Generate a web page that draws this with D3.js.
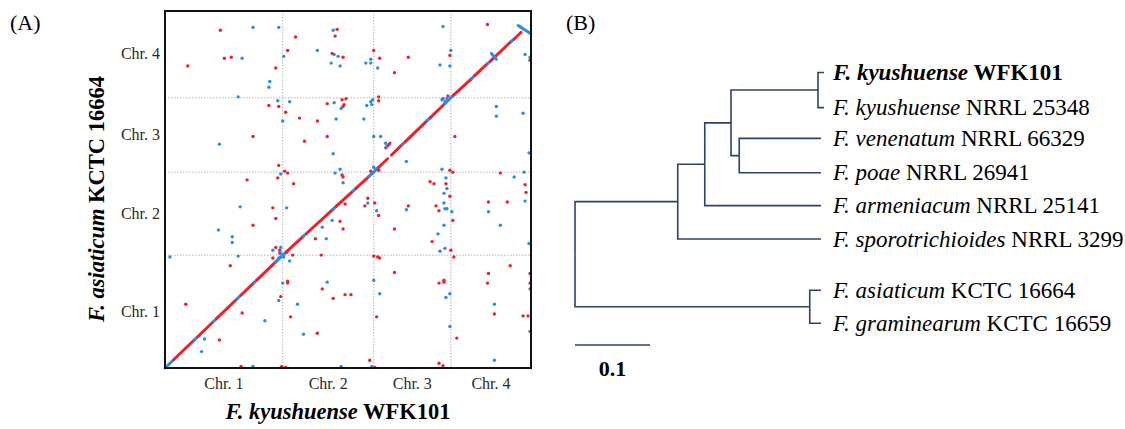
<!DOCTYPE html>
<html>
<head>
<meta charset="utf-8">
<script src="https://cdn.jsdelivr.net/npm/d3@7"></script>
<style>
  body { margin: 0; background: #fff; }
  svg { display: block; }
  text { font-family: "Liberation Serif", "Times New Roman", "DejaVu Serif", serif; }
</style>
</head>
<body>
<div id="fig"></div>
<script>
// ------------------------------------------------------------------------ //
// DATA
// ------------------------------------------------------------------------ //

// chromosome names and lengths (Mb)
const chrNames = ["Chr. 1", "Chr. 2", "Chr. 3", "Chr. 4"];
const chrLenX = [11.9, 9.2, 7.8, 8.1];   // F. kyushuense WFK101
const chrLenY = [11.7, 8.6, 7.7, 9.0];   // F. asiaticum KCTC 16664

// alignment blocks along the diagonal: x1, y1, x2, y2 (global Mb), colour
const diagBlocks = [
  [0.0, 0.0, 0.9, 0.88, "b"], [0.9, 0.88, 3.0, 2.95, "r"], [3.0, 2.95, 3.3, 3.24, "b"],
  [3.3, 3.24, 4.9, 4.82, "r"], [4.9, 4.82, 5.2, 5.11, "b"], [5.2, 5.11, 7.3, 7.18, "r"],
  [7.3, 7.18, 7.7, 7.57, "b"], [7.7, 7.57, 9.0, 8.85, "r"], [9.0, 8.85, 9.3, 9.14, "b"],
  [9.3, 9.14, 11.2, 11.0, "r"], [11.2, 11.0, 12.3, 12.07, "b"],
  [12.3, 12.07, 14.0, 13.66, "r"], [14.0, 13.66, 14.3, 13.94, "b"], [14.3, 13.94, 17.0, 16.47, "r"],
  [17.0, 16.47, 17.3, 16.75, "b"], [17.3, 16.75, 19.0, 18.34, "r"], [19.0, 18.34, 19.3, 18.62, "b"],
  [19.3, 18.62, 20.6, 19.83, "r"], [20.6, 19.83, 21.5, 20.7, "b"],
  [21.5, 20.7, 22.5, 21.69, "r"], [22.9, 22.08, 24.0, 23.17, "r"], [24.0, 23.17, 24.3, 23.46, "b"],
  [24.3, 23.46, 26.5, 25.64, "r"], [26.5, 25.64, 26.8, 25.93, "b"], [26.8, 25.93, 28.3, 27.41, "r"],
  [28.3, 27.41, 29.2, 28.3, "b"],
  [29.2, 28.3, 31.0, 30.0, "r"], [31.0, 30.0, 31.3, 30.3, "b"], [31.3, 30.3, 32.6, 31.55, "r"],
  [32.6, 31.55, 32.9, 31.8, "b"], [32.9, 31.8, 35.0, 33.85, "r"], [35.0, 33.85, 35.3, 34.1, "b"],
  [35.3, 34.1, 36.0, 34.8, "r"],
  [22.3, 22.8, 22.75, 23.3, "r"],
  [33.0, 32.6, 33.5, 32.0, "b"], [35.7, 35.5, 36.9, 34.7, "b"]
];

// scattered forward hits (x, y in global Mb)
const redDots = [
  [5.6,35.0],[13.2,34.3],[17.4,35.1],[17.2,34.4],[12.4,32.9],[6.0,32.1],[6.7,32.2],[2.3,31.3],
  [16.9,32.6],[18.0,32.2],[11.2,31.1],[17.9,27.8],[18.3,27.9],[16.4,27.4],[18.1,27.3],[18.0,27.1],
  [10.5,27.2],[11.5,27.1],[12.2,26.5],[13.6,25.9],[15.4,25.6],[8.9,24.0],[14.1,23.5],[16.4,24.0],
  [11.5,21.0],[12.1,20.4],[12.4,20.2],[11.4,19.7],[8.3,19.5],[13.0,19.1],[17.9,20.0],[18.0,19.8],
  [5.5,2.9],[8.9,14.8],[6.6,10.6],[7.8,5.7],[7.7,0.15],[10.9,16.6],[11.2,15.5],[11.2,12.5],
  [11.6,12.2],[15.8,11.7],[12.9,11.7],[10.9,11.4],[12.4,9.0],[12.4,8.8],[15.9,8.2],[18.2,7.6],
  [18.8,7.6],[11.7,7.4],[17.0,7.2],[2.1,6.6],[12.7,5.3],[15.4,3.6],[11.8,0.15],[12.2,0.05],
  [17.7,15.2],[18.0,14.4],[15.2,13.4],[18.2,17.0],[32.6,35.6],[36.9,31.9],[21.1,32.9],[21.7,32.1],
  [24.6,32.2],[23.2,30.6],[28.8,32.4],[21.6,28.1],[21.6,27.7],[29.3,24.0],[28.8,20.5],[29.1,20.3],
  [21.6,20.5],[33.9,20.2],[36.4,19.0],[36.5,18.2],[26.8,19.3],[27.2,19.1],[28.4,19.1],[28.8,17.8],
  [20.5,17.6],[20.2,16.8],[21.2,17.1],[21.6,15.8],[23.2,14.4],[24.6,16.8],[27.4,16.8],[27.7,16.3],
  [29.1,15.3],[27.0,13.1],[28.9,12.2],[29.2,11.5],[21.1,11.6],[21.5,11.5],[21.7,11.4],[23.2,9.9],
  [27.7,8.8],[28.2,9.1],[28.2,8.9],[21.4,5.3],[29.5,3.1],[32.7,17.2],[34.6,17.2],[34.9,10.6],
  [32.7,9.8],[32.6,8.8],[36.9,9.8],[36.9,8.8],[33.3,5.6],[36.2,5.4],[36.7,5.4],[20.7,0.8],
  [21.2,0.05],[27.7,0.5],[28.1,0.25],[11.6,11.9],[12.3,12.0],[20.8,20.4],[28.1,27.9],[28.6,28.2]
];

// scattered reverse hits (x, y in global Mb)
const blueDots = [
  [8.9,35.3],[11.5,35.3],[17.0,35.0],[15.4,32.9],[7.8,32.1],[12.0,32.3],[17.1,32.5],[17.5,32.3],
  [16.8,31.6],[17.7,31.3],[10.6,29.7],[10.5,29.1],[7.4,28.1],[11.4,27.7],[12.6,27.6],[17.1,27.5],
  [17.8,26.9],[17.3,25.8],[11.9,25.6],[5.5,23.2],[17.0,22.2],[17.7,20.6],[17.2,20.2],[18.0,19.2],
  [11.7,20.1],[0.5,11.5],[3.7,1.7],[4.0,3.0],[7.6,16.7],[5.4,14.3],[6.8,13.6],[6.8,13.0],
  [7.4,11.6],[10.1,4.9],[8.9,0.15],[12.3,16.6],[10.9,12.2],[11.7,12.5],[12.6,11.1],[11.9,8.8],
  [16.4,8.9],[11.5,7.0],[13.4,6.6],[14.0,3.5],[17.8,0.15],[16.9,15.3],[15.9,14.6],[16.3,13.4],
  [28.1,35.4],[36.4,32.5],[36.9,32.2],[20.3,31.6],[20.8,32.0],[20.8,31.6],[21.5,31.1],[27.8,31.4],
  [28.9,32.9],[28.8,31.3],[21.0,27.8],[20.8,27.6],[20.4,27.2],[20.9,27.3],[20.1,25.8],[21.1,24.0],
  [21.8,24.0],[22.3,23.3],[22.4,22.9],[24.4,21.4],[28.0,20.6],[21.1,20.8],[33.5,27.1],[33.5,26.1],
  [36.2,26.4],[35.3,19.8],[36.8,22.3],[36.3,20.3],[28.4,19.7],[28.5,18.6],[28.2,18.1],[20.5,17.1],
  [21.4,16.3],[24.4,16.4],[28.2,17.1],[28.3,16.5],[28.5,16.5],[29.0,16.2],[28.2,14.8],[27.6,13.9],
  [27.8,12.1],[28.3,12.4],[21.1,9.1],[21.7,7.7],[28.8,7.7],[28.4,7.3],[28.8,4.3],[36.4,17.3],
  [32.7,16.2],[33.9,14.8],[36.8,12.9],[36.9,8.2],[33.3,6.6],[36.9,3.8],[33.3,0.8],[20.9,0.15],
  [11.7,11.9],[11.5,11.4],[12.0,11.5],[21.0,20.2],[21.3,20.6],[28.0,27.8],[28.3,27.6],[28.5,27.9]
];

// tree tips
const species = ["F. kyushuense", "F. kyushuense", "F. venenatum", "F. poae",
                 "F. armeniacum", "F. sporotrichioides", "F. asiaticum", "F. graminearum"];
const strains = ["WFK101", "NRRL 25348", "NRRL 66329", "NRRL 26941",
                 "NRRL 25141", "NRRL 3299", "KCTC 16664", "KCTC 16659"];
const tipRows = [0, 1.05, 1.97, 3.0, 3.98, 4.98, 6.51, 7.5];

// topology with branch lengths (substitutions / site)
const treeData = {len: 0, children: [
  {len: 0.137, children: [
    {len: 0.036, children: [
      {len: 0.035, children: [
        {len: 0.116, children: [{tip: 0, len: 0.008}, {tip: 1, len: 0.008}]},
        {len: 0.011, children: [{tip: 2, len: 0.109}, {tip: 3, len: 0.109}]}
      ]},
      {tip: 4, len: 0.155}
    ]},
    {tip: 5, len: 0.191}
  ]},
  {len: 0.313, children: [{tip: 6, len: 0.015}, {tip: 7, len: 0.015}]}
]};
const scaleBar = 0.1;

// ------------------------------------------------------------------------ //
// SVG AREA
// ------------------------------------------------------------------------ //

const W = 1125, H = 429;
const red = "#e8232b", blue = "#2b8be6", treeCol = "#2f416b";

const svg = d3.select("#fig").append("svg")
  .attr("width", W).attr("height", H);

// panel letters
svg.append("text").attr("x", 10).attr("y", 30).attr("font-size", 22).text("(A)");
svg.append("text").attr("x", 566).attr("y", 30).attr("font-size", 22).text("(B)");

// ------------------------------------------------------------------------ //
// (A) DOT PLOT
// ------------------------------------------------------------------------ //

const plot = {left: 165, top: 11, right: 531, bottom: 368};

const cumX = [0].concat(Array.from(d3.cumsum(chrLenX)));
const cumY = [0].concat(Array.from(d3.cumsum(chrLenY)));

const x = d3.scaleLinear().domain([0, cumX[4]]).range([plot.left, plot.right]);
const y = d3.scaleLinear().domain([0, cumY[4]]).range([plot.bottom, plot.top]);

const dp = svg.append("g");

// chromosome boundaries
dp.selectAll(".vgrid").data(cumX.slice(1, 4)).enter().append("line")
  .attr("x1", d => x(d)).attr("x2", d => x(d))
  .attr("y1", plot.top).attr("y2", plot.bottom)
  .style("stroke", "#b5b5b5").style("stroke-width", 1).style("stroke-dasharray", "1.5,1.5");
dp.selectAll(".hgrid").data(cumY.slice(1, 4)).enter().append("line")
  .attr("y1", d => y(d)).attr("y2", d => y(d))
  .attr("x1", plot.left).attr("x2", plot.right)
  .style("stroke", "#b5b5b5").style("stroke-width", 1).style("stroke-dasharray", "1.5,1.5");

// diagonal blocks
dp.selectAll(".blk").data(diagBlocks).enter().append("line")
  .attr("x1", d => x(d[0])).attr("y1", d => y(d[1]))
  .attr("x2", d => x(d[2])).attr("y2", d => y(d[3]))
  .style("stroke", d => d[4] == "r" ? red : blue)
  .style("stroke-width", 3)
  .style("stroke-linecap", "round");

// scattered hits
dp.selectAll(".rdot").data(redDots).enter().append("circle")
  .attr("cx", d => x(d[0])).attr("cy", d => y(d[1])).attr("r", 1.7).style("fill", red);
dp.selectAll(".bdot").data(blueDots).enter().append("circle")
  .attr("cx", d => x(d[0])).attr("cy", d => y(d[1])).attr("r", 1.7).style("fill", blue);

// frame
dp.append("rect")
  .attr("x", plot.left).attr("y", plot.top)
  .attr("width", plot.right - plot.left).attr("height", plot.bottom - plot.top)
  .style("fill", "none").style("stroke", "#111").style("stroke-width", 2);

// chromosome labels
dp.selectAll(".xlab").data(chrNames).enter().append("text")
  .attr("x", (d, i) => x((cumX[i] + cumX[i + 1]) / 2))
  .attr("y", 389)
  .attr("text-anchor", "middle").attr("font-size", 16).style("fill", "#2a2a2a")
  .text(d => d);
dp.selectAll(".ylab").data(chrNames).enter().append("text")
  .attr("x", 160)
  .attr("y", (d, i) => y((cumY[i] + cumY[i + 1]) / 2) + 5)
  .attr("text-anchor", "end").attr("font-size", 16).style("fill", "#2a2a2a")
  .text(d => d);

// axis titles
const xt = dp.append("text")
  .attr("x", 338).attr("y", 419)
  .attr("text-anchor", "middle").attr("font-size", 22.5).attr("font-weight", "bold");
xt.append("tspan").attr("font-style", "italic").text(species[0]);
xt.append("tspan").text(" " + strains[0]);

const yt = dp.append("text")
  .attr("transform", "translate(104,199) rotate(-90)")
  .attr("text-anchor", "middle").attr("font-size", 22.5).attr("font-weight", "bold");
yt.append("tspan").attr("font-style", "italic").text(species[6]);
yt.append("tspan").text(" " + strains[6]);

// ------------------------------------------------------------------------ //
// (B) TREE
// ------------------------------------------------------------------------ //

const root = d3.hierarchy(treeData);
root.eachBefore(d => d.dist = (d.parent ? d.parent.dist : 0) + d.data.len);
root.eachAfter(d => d.row = d.children ? d3.mean(d.children, c => c.row) : tipRows[d.data.tip]);

const tx = d3.scaleLinear().domain([0, scaleBar]).range([575, 650]);
const ty = d3.scaleLinear().domain([0, 7.5]).range([72.5, 323.3]);

const tree = svg.append("g");

tree.selectAll(".branch").data(root.descendants().slice(1)).enter().append("path")
  .attr("d", d => "M" + tx(d.parent.dist) + "," + ty(d.parent.row) +
                  "V" + ty(d.row) + "H" + tx(d.dist))
  .style("fill", "none").style("stroke", treeCol).style("stroke-width", 1.6);

const labelX = tx(d3.max(root.leaves(), d => d.dist)) + 9;
const tips = tree.selectAll(".tip").data(root.leaves()).enter().append("text")
  .attr("x", labelX)
  .attr("y", d => ty(d.row) + 7.5)
  .attr("font-size", 23)
  .attr("font-weight", d => d.data.tip == 0 ? "bold" : "normal");
tips.append("tspan").attr("font-style", "italic").text(d => species[d.data.tip]);
tips.append("tspan").text(d => " " + strains[d.data.tip]);

// scale bar
tree.append("line")
  .attr("x1", tx(0)).attr("x2", tx(scaleBar)).attr("y1", 345).attr("y2", 345)
  .style("stroke", treeCol).style("stroke-width", 1.6);
tree.append("text")
  .attr("x", (tx(0) + tx(scaleBar)) / 2).attr("y", 376)
  .attr("text-anchor", "middle").attr("font-size", 22).attr("font-weight", "bold")
  .text(scaleBar);
</script>
</body>
</html>
